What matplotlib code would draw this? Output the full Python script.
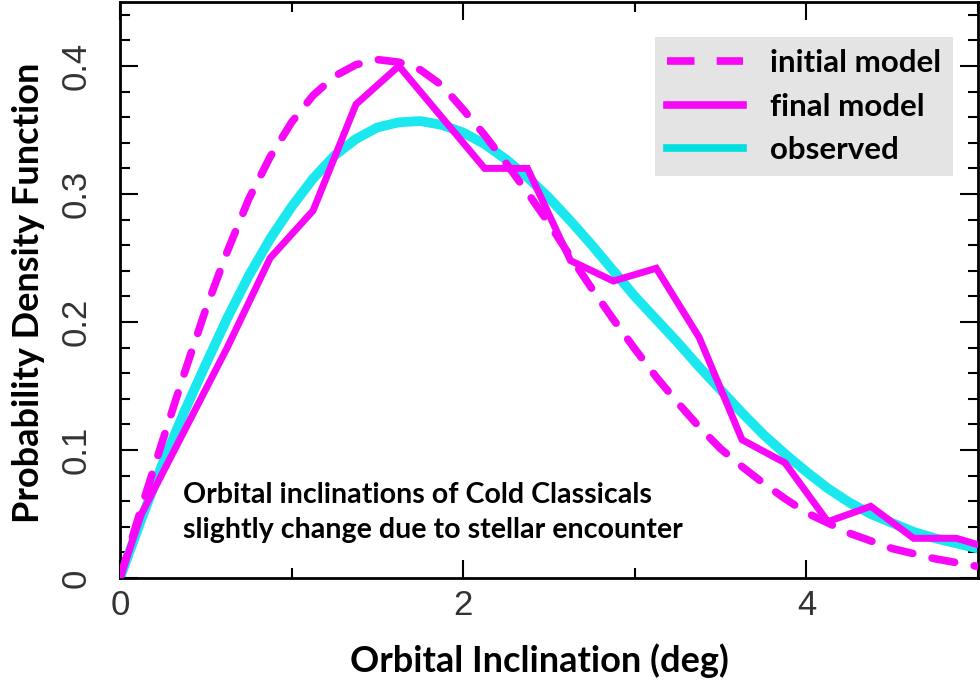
import matplotlib
matplotlib.use("Agg")
import matplotlib.pyplot as plt
from matplotlib.lines import Line2D
from matplotlib.ticker import MultipleLocator, FixedLocator, FuncFormatter

# ---- data ----
x_smooth = [0, 0.125, 0.25, 0.375, 0.5, 0.625, 0.75, 0.875, 1.0, 1.125, 1.25,
            1.375, 1.5, 1.625, 1.75, 1.875, 2.0, 2.125, 2.25, 2.375, 2.5,
            2.625, 2.75, 2.875, 3.0, 3.125, 3.25, 3.375, 3.5, 3.625, 3.75,
            3.875, 4.0, 4.125, 4.25, 4.375, 4.5, 4.625, 4.75, 4.875, 5.0]
initial_model = [0, 0.055, 0.108, 0.160, 0.210, 0.255, 0.296, 0.329, 0.356,
                 0.377, 0.392, 0.401, 0.405, 0.403, 0.397, 0.385, 0.366,
                 0.346, 0.324, 0.301, 0.277, 0.251, 0.226, 0.202, 0.179,
                 0.157, 0.137, 0.118, 0.101, 0.087, 0.074, 0.062, 0.051,
                 0.043, 0.035, 0.029, 0.023, 0.019, 0.015, 0.012, 0.009]
observed = [0, 0.046, 0.090, 0.130, 0.167, 0.203, 0.236, 0.265, 0.290, 0.312,
            0.330, 0.343, 0.352, 0.356, 0.357, 0.354, 0.348, 0.339, 0.327,
            0.313, 0.297, 0.279, 0.260, 0.240, 0.220, 0.202, 0.184, 0.165,
            0.147, 0.129, 0.112, 0.097, 0.083, 0.070, 0.059, 0.050, 0.043,
            0.036, 0.031, 0.027, 0.023]

x_final = [0, 0.125, 0.375, 0.625, 0.875, 1.125, 1.375, 1.625, 1.875, 2.125,
           2.375, 2.625, 2.875, 3.125, 3.375, 3.625, 3.875, 4.125, 4.375,
           4.625, 4.875, 5.0]
final_model = [0, 0.050, 0.115, 0.180, 0.250, 0.287, 0.370, 0.400, 0.360,
               0.320, 0.320, 0.248, 0.232, 0.242, 0.188, 0.108, 0.090, 0.044,
               0.056, 0.031, 0.031, 0.026]

legend_labels = ["initial model", "final model", "observed"]
x_label = "Orbital Inclination (deg)"
y_label = "Probability Density Function"
note_lines = ["Orbital inclinations of Cold Classicals",
              "slightly change due to stellar encounter"]

MAGENTA = "#f708f7"
CYAN = "#1ae8ee"
W, H = 980, 683

fig = plt.figure(figsize=(W / 100, H / 100), dpi=100)
ax = fig.add_axes([120 / W, (H - 578) / H, 858 / W, 576 / H])

ax.plot(x_smooth, observed, color=CYAN, lw=7, solid_capstyle="round",
        solid_joinstyle="round", zorder=2)
ax.plot(x_final, final_model, color=MAGENTA, lw=5, solid_joinstyle="miter",
        zorder=3)
ax.plot(x_smooth, initial_model, color=MAGENTA, lw=5.5, dashes=(3.0, 2.6),
        dash_capstyle="round", zorder=4)

ax.set_xlim(0, 5)
ax.set_ylim(0, 0.45)

ax.xaxis.set_major_locator(FixedLocator([0, 2, 4]))
ax.xaxis.set_minor_locator(FixedLocator([1, 3, 5]))
ax.yaxis.set_major_locator(MultipleLocator(0.1))
ax.yaxis.set_minor_locator(MultipleLocator(0.02))
ax.yaxis.set_major_formatter(FuncFormatter(lambda v, p: "0" if abs(v) < 1e-9 else f"{v:.1f}"))
ax.xaxis.set_major_formatter(FuncFormatter(lambda v, p: f"{v:g}"))

ax.tick_params(which="both", direction="in", top=True, right=True, width=1.5,
               color="black")
ax.tick_params(which="major", length=13)
ax.tick_params(which="minor", length=7)
ax.tick_params(axis="y", which="major", pad=20, labelrotation=90)
ax.tick_params(axis="x", which="major", pad=8)
for lab in ax.get_xticklabels() + ax.get_yticklabels():
    lab.set_fontfamily("Liberation Sans")
    lab.set_fontweight("normal")
    lab.set_fontsize(25)
    lab.set_color("#333333")
for lab in ax.get_yticklabels():
    lab.set_va("center")

for s in ax.spines.values():
    s.set_linewidth(2)
    s.set_color("black")

bold = dict(family="Lato", weight="bold", color="black")
fig.text(539 / W, 1 - 672 / H, x_label, ha="center", va="baseline", size=26, **bold)
fig.text(29 / W, 1 - 293 / H, y_label, ha="center", va="center", rotation=90,
         size=26, **bold)
fig.text(183 / W, 1 - 503 / H, note_lines[0], ha="left", va="baseline", size=20.6, **bold)
fig.text(183 / W, 1 - 538 / H, note_lines[1], ha="left", va="baseline", size=20.6, **bold)

handles = [
    Line2D([], [], color=MAGENTA, lw=5.5, dashes=(3.6, 2.9)),
    Line2D([], [], color=MAGENTA, lw=5.5),
    Line2D([], [], color="#00dede", lw=5.5),
]
leg = ax.legend(handles, legend_labels, loc="upper right",
                bbox_to_anchor=(953 / W, 1 - 37 / H),
                bbox_transform=fig.transFigure, borderaxespad=0,
                prop=dict(family="Lato", weight="bold", size=22.5),
                frameon=True, fancybox=False, framealpha=1,
                facecolor="#e4e4e4", edgecolor="none",
                handlelength=2.45, handletextpad=0.85, labelspacing=0.5,
                borderpad=0.38)

fig.savefig("out.png", dpi=100)
